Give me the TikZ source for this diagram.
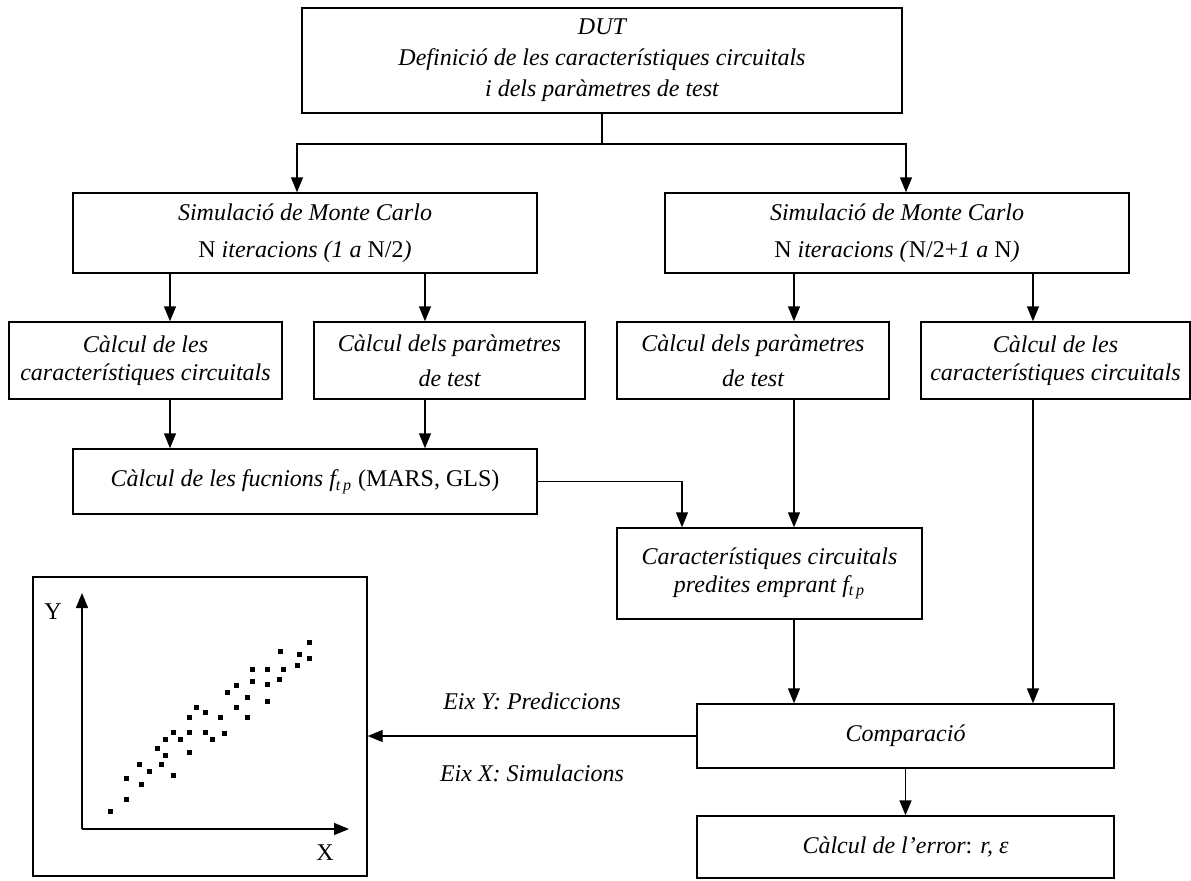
\documentclass[tikz,border=0pt]{standalone}
\usepackage{fontspec}
\setmainfont{Liberation Serif}
\usetikzlibrary{arrows.meta,positioning,calc}
\tikzset{
  boxnd/.style={draw, line width=0.7pt, inner sep=0pt, align=center,
    font=\itshape\fontsize{12}{14}\selectfont},
  flowln/.style={-{Triangle[length=7.5pt,width=6pt]}, line width=0.7pt},
  plainln/.style={line width=0.7pt},
  lbl/.style={inner sep=0pt, font=\itshape\fontsize{12}{14}\selectfont},
  axlbl/.style={inner sep=0pt, font=\fontsize{12}{14}\selectfont},
  dotpt/.style={fill=black},
}

\begin{document}
\begin{tikzpicture}[x=0.5pt,y=-0.5pt]
    \useasboundingbox (0,0) rectangle (1191,880);
    % ----- boxes -----
    \node[boxnd, minimum width=300pt, minimum height=52.5pt] (dut) at (602,60.5)
      {DUT\\[1.5pt] Definició de les característiques circuitals\\[1.5pt] i dels paràmetres de test};
    \node[boxnd, minimum width=232pt, minimum height=40pt] (mcL) at (305,233)
      {Simulació de Monte Carlo\\[4.5pt] \textup{N} iteracions (1 a \textup{N/2})};
    \node[boxnd, minimum width=232pt, minimum height=40pt] (mcR) at (897,233)
      {Simulació de Monte Carlo\\[4.5pt] \textup{N} iteracions (\textup{N/2+}1 a \textup{N})};
    \node[boxnd, minimum width=136.5pt, minimum height=38.5pt] (cL1) at (145.5,360.5)
      {Càlcul de les\\ característiques circuitals};
    \node[boxnd, minimum width=135.5pt, minimum height=38.5pt] (cL2) at (449.5,360.5)
      {Càlcul dels paràmetres\\[3.5pt] de test};
    \node[boxnd, minimum width=136pt, minimum height=38.5pt] (cR1) at (753,360.5)
      {Càlcul dels paràmetres\\[3.5pt] de test};
    \node[boxnd, minimum width=134.5pt, minimum height=38.5pt] (cR2) at (1055.5,360.5)
      {Càlcul de les\\ característiques circuitals};
    \node[boxnd, minimum width=232pt, minimum height=32.5pt] (fun) at (305,481.5)
      {Càlcul de les fucnions f\textsubscript{t\,p} \textup{(MARS, GLS)}};
    \node[boxnd, minimum width=152.5pt, minimum height=45.5pt] (pred) at (769.5,573.5)
      {Característiques circuitals\\ predites emprant f\textsubscript{t\,p}};
    \node[boxnd, minimum width=208.5pt, minimum height=32pt] (comp) at (905.5,736)
      {Comparació};
    \node[boxnd, minimum width=208.5pt, minimum height=31pt] (err) at (905.5,847)
      {Càlcul de l’error\textup{:} r, ε};
    \node[draw, line width=0.7pt, minimum width=167pt, minimum height=149.5pt] (plot) at (200,726.5) {};
    % ----- columns of the arrows -----
    \coordinate (split) at (602,144);
    \coordinate (colL) at (297,0);
    \coordinate (colR) at (906,0);
    \coordinate (colA) at (170,0);
    \coordinate (colB) at (425,0);
    \coordinate (colC) at (794,0);
    \coordinate (colD) at (1033,0);
    \coordinate (colE) at (682,0);
    % ----- connectors -----
    \draw[plainln] (dut.south) -- (split);
    \draw[flowln] (split) -| (mcL.north -| colL);
    \draw[flowln] (split) -| (mcR.north -| colR);
    \draw[flowln] (mcL.south -| colA) -- (cL1.north -| colA);
    \draw[flowln] (mcL.south -| colB) -- (cL2.north -| colB);
    \draw[flowln] (mcR.south -| colC) -- (cR1.north -| colC);
    \draw[flowln] (mcR.south -| colD) -- (cR2.north -| colD);
    \draw[flowln] (cL1.south -| colA) -- (fun.north -| colA);
    \draw[flowln] (cL2.south -| colB) -- (fun.north -| colB);
    \draw[flowln] (cR1.south -| colC) -- (pred.north -| colC);
    \draw[flowln] (fun.east) -| (pred.north -| colE);
    \draw[flowln] (pred.south -| colC) -- (comp.north -| colC);
    \draw[flowln] (cR2.south -| colD) -- (comp.north -| colD);
    \draw[flowln] (comp.south) -- (err.north);
    \draw[flowln] (comp.west) -- (comp.west -| plot.east)
      node[lbl, midway, above=12.5pt] (lblY) {Eix Y: Prediccions}
      node[lbl, midway, below=14pt] (lblX) {Eix X: Simulacions};
    % ----- scatter plot -----
    \coordinate (orig) at (82,829);
    \coordinate (ytip) at (82,593);
    \coordinate (xtip) at (349,829);
    \draw[flowln] (orig) -- (ytip);
    \draw[flowln] (orig) -- (xtip);
    \node[axlbl] (ylab) at (53,612) {Y};
    \node[axlbl] (xlab) at (325,853) {X};
    \foreach \px/\py in {110/811,126/799,126/778,141/784,139/764,149/771,161/764,173/775,
        157/748,165/755,165/739,173/732,180/739,189/752,189/732,189/717,196/707,205/712,
        205/732,212/739,220/717,224/733,227/692,236/685,236/707,247/697,247/717,252/669,
        252/681,267/669,267/684,267/701,280/651,283/669,279/679,297/665,299/654,309/642,309/658}
      \fill[dotpt] (\px,\py) ++(-2.5,-2.5) rectangle ++(5,5);
\end{tikzpicture}
\end{document}
